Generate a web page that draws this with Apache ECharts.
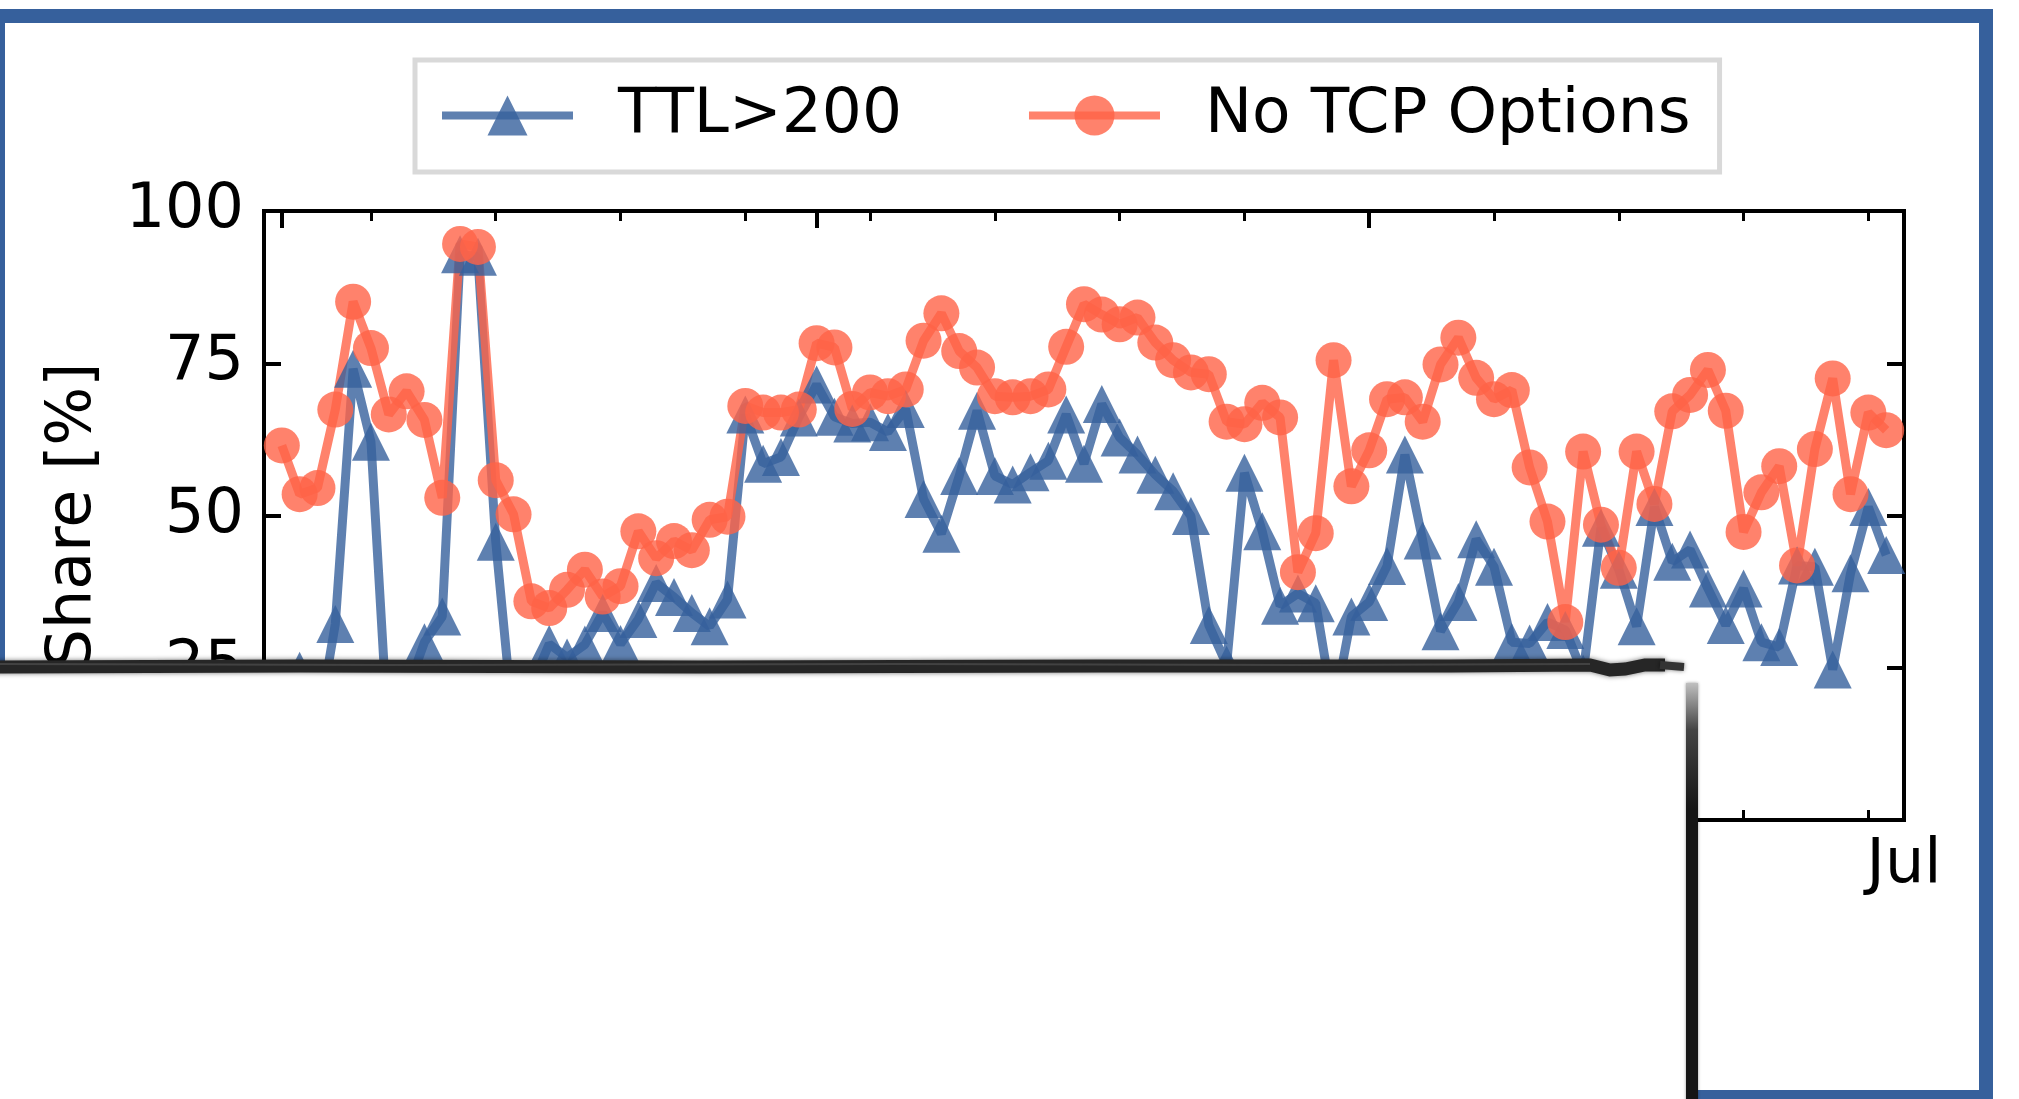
<!DOCTYPE html>
<html>
<head>
<meta charset="utf-8">
<script src="https://cdn.jsdelivr.net/npm/echarts@6/dist/echarts.min.js"></script>
<style>
  html, body { margin: 0; padding: 0; background: #fff; }
  #chart { width: 2019px; height: 1099px; }
</style>
</head>
<body>
<div id="chart"></div>
<script>
// day index 0 = Apr 1, 90 = Jun 30
const ttl200 = [
  18, 24.5, 15, 32.2, 74.1, 62.1, 12, 21, 29.2, 33.4,
  92.9, 92.5, 45.7, 15, 22, 28.9, 26.7, 28.8, 34.0, 28.9,
  33.0, 38.9, 36.6, 34.0, 31.8, 36.2, 66.6, 58.5, 59.6, 66.1,
  71.5, 66.2, 65.1, 65.3, 63.7, 67.5, 52.7, 47.0, 56.5, 67.2,
  56.5, 55.1, 57.1, 59.0, 66.6, 58.5, 68.3, 62.8, 60.0, 56.7,
  54.0, 49.9, 32.0, 25.5, 57.0, 47.4, 35.2, 37.2, 35.6, 18,
  33.4, 35.8, 41.7, 60.0, 45.9, 31.0, 35.8, 46.1, 41.6, 29.2,
  29.0, 32.5, 31.2, 24, 48, 41.1, 31.8, 51.4, 42.4, 44.4,
  38.0, 32.0, 38.0, 29.2, 28.4, 41.8, 41.6, 24.7, 40.5, 51.4,
  43.5
];
const noTcpOptions = [
  61.5, 53.5, 54.5, 67.4, 85.1, 77.5, 66.6, 70.4, 65.7, 52.9,
  94.6, 94.1, 55.8, 50.2, 35.9, 34.8, 37.8, 41.1, 36.7, 38.4,
  47.4, 43.0, 45.8, 44.3, 49.3, 49.8, 68.0, 66.9, 66.9, 67.4,
  78.3, 77.6, 67.5, 70.2, 69.6, 70.7, 78.7, 83.2, 77.0, 74.3,
  69.6, 69.4, 69.6, 70.7, 77.7, 84.7, 83.0, 81.4, 82.5, 78.4,
  75.5, 73.5, 73.2, 65.4, 65.0, 68.5, 66.1, 40.7, 47.1, 75.5,
  54.8, 60.7, 69.1, 69.4, 65.4, 74.8, 79.2, 72.6, 69.1, 70.6,
  57.9, 49.0, 32.5, 60.5, 48.5, 41.4, 60.5, 51.9, 67.1, 69.8,
  73.9, 67.2, 47.3, 53.8, 58.1, 41.8, 60.9, 72.5, 53.5, 66.9,
  64.0
];
const seriesNames = ['TTL>200', 'No TCP Options'];
const monthTicks = [0, 30, 61, 91];
const monthLabels = ['Apr', 'May', 'Jun', 'Jul'];
const weekTicks = [5, 12, 19, 26, 33, 40, 47, 54, 61, 68, 75, 82, 89];
const yTicks = [0, 25, 50, 75, 100];

const FONT = 'DejaVu Sans';
const BLUE = 'rgb(54, 96, 156)';
const ORANGE = 'rgb(255, 99, 71)';

const chart = echarts.init(document.getElementById('chart'));

function toPoints(values) {
  return values.map((v, i) => [i, v]);
}

function xAxis(position, ticks, len, width, withLabels) {
  return {
    type: 'value',
    position: position,
    min: -1,
    max: 91,
    axisLine: { show: false, onZero: false },
    splitLine: { show: false },
    axisTick: {
      show: true,
      inside: true,
      length: len,
      customValues: ticks,
      lineStyle: { color: '#000', width: width }
    },
    axisLabel: withLabels ? {
      show: true,
      customValues: monthTicks,
      formatter: (v) => monthLabels[monthTicks.indexOf(v)],
      margin: 15,
      color: '#000',
      fontFamily: FONT,
      fontSize: 62
    } : { show: false }
  };
}

function yAxis(position, withLabels) {
  const ax = {
    type: 'value',
    position: position,
    min: 0,
    max: 100,
    interval: 25,
    axisLine: { show: false, onZero: false },
    splitLine: { show: false },
    axisTick: {
      show: true,
      inside: true,
      length: 17,
      customValues: yTicks,
      lineStyle: { color: '#000', width: 4 }
    },
    axisLabel: withLabels ? {
      show: true,
      margin: 20,
      color: '#000',
      fontFamily: FONT,
      fontSize: 62
    } : { show: false }
  };
  if (withLabels) {
    ax.name = 'Share [%]';
    ax.nameLocation = 'middle';
    ax.nameRotate = 90;
    ax.nameGap = 159;
    ax.nameTextStyle = { color: '#000', fontFamily: FONT, fontSize: 62 };
  }
  return ax;
}

const option = {
  animation: false,
  backgroundColor: '#fff',
  textStyle: { fontFamily: FONT },
  grid: {
    left: 264,
    top: 211,
    right: 115,
    bottom: 279,
    show: true,
    borderColor: '#000',
    borderWidth: 4,
    backgroundColor: '#fff',
    containLabel: false,
    outerBoundsMode: 'none'
  },
  legend: {
    left: 415,
    top: 60,
    orient: 'horizontal',
    itemWidth: 131,
    itemHeight: 50,
    itemGap: 123,
    padding: [24, 29, 25, 23],
    borderColor: '#d9d9d9',
    borderWidth: 5,
    borderRadius: 0,
    backgroundColor: '#fff',
    textStyle: {
      color: '#000',
      fontFamily: FONT,
      fontSize: 63,
      padding: [20, 0, 0, 40]
    },
    data: seriesNames.map((n) => ({
      name: n,
      lineStyle: { width: 8, opacity: 0.8 },
      itemStyle: { opacity: 0.8 }
    }))
  },
  xAxis: [
    xAxis('bottom', monthTicks, 17, 4, true),
    xAxis('bottom', weekTicks, 10, 3, false),
    xAxis('top', monthTicks, 17, 4, false),
    xAxis('top', weekTicks, 10, 3, false)
  ],
  yAxis: [
    yAxis('left', true),
    yAxis('right', false)
  ],
  series: [
    {
      name: seriesNames[0],
      type: 'line',
      xAxisIndex: 0,
      yAxisIndex: 0,
      data: toPoints(ttl200),
      symbol: 'triangle',
      symbolSize: 38,
      showAllSymbol: true,
      color: BLUE,
      lineStyle: { color: BLUE, width: 9, opacity: 0.8 },
      itemStyle: { color: BLUE, opacity: 0.8 },
      emphasis: { disabled: true }
    },
    {
      name: seriesNames[1],
      type: 'line',
      xAxisIndex: 0,
      yAxisIndex: 0,
      data: toPoints(noTcpOptions),
      symbol: 'circle',
      symbolSize: 36,
      showAllSymbol: true,
      color: ORANGE,
      lineStyle: { color: ORANGE, width: 9, opacity: 0.8 },
      itemStyle: { color: ORANGE, opacity: 0.8 },
      emphasis: { disabled: true }
    }
  ],
  graphic: [
    // blue frame around the figure
    {
      type: 'rect',
      z: 50,
      silent: true,
      shape: { x: -2, y: 16, width: 1988, height: 1081 },
      style: { fill: 'none', stroke: BLUE, lineWidth: 14 }
    },
    // torn paper covering the lower left
    {
      type: 'rect',
      z: 100,
      silent: true,
      shape: { x: -20, y: 668, width: 1712, height: 460 },
      style: { fill: '#fff' }
    },
    {
      type: 'polyline',
      z: 101,
      silent: true,
      shape: {
        points: [[-10, 667], [300, 666], [700, 667], [1100, 666], [1450, 666],
                 [1590, 665], [1610, 670], [1625, 669], [1645, 665], [1665, 665]]
      },
      style: {
        stroke: '#262626', lineWidth: 13, fill: 'none',
        shadowBlur: 5, shadowColor: 'rgba(0,0,0,0.55)'
      }
    },
    {
      type: 'polyline',
      z: 102,
      silent: true,
      shape: {
        points: [[-10, 664], [400, 665], [900, 664], [1300, 665], [1590, 664]]
      },
      style: { stroke: 'rgba(120,120,120,0.35)', lineWidth: 2, fill: 'none' }
    },
    {
      type: 'polyline',
      z: 101,
      silent: true,
      shape: { points: [[1660, 665], [1684, 667]] },
      style: {
        stroke: '#333', lineWidth: 8, fill: 'none',
        shadowBlur: 4, shadowColor: 'rgba(0,0,0,0.5)'
      }
    },
    {
      type: 'line',
      z: 101,
      silent: true,
      shape: { x1: 1692, y1: 683, x2: 1692, y2: 1110 },
      style: {
        lineWidth: 12,
        stroke: {
          type: 'linear', x: 0, y: 0, x2: 0, y2: 1,
          colorStops: [
            { offset: 0, color: '#cfcfcf' },
            { offset: 0.12, color: '#444' },
            { offset: 0.3, color: '#151515' },
            { offset: 1, color: '#151515' }
          ]
        },
        shadowBlur: 3, shadowColor: 'rgba(0,0,0,0.4)'
      }
    }
  ]
};

chart.setOption(option);
</script>
</body>
</html>
